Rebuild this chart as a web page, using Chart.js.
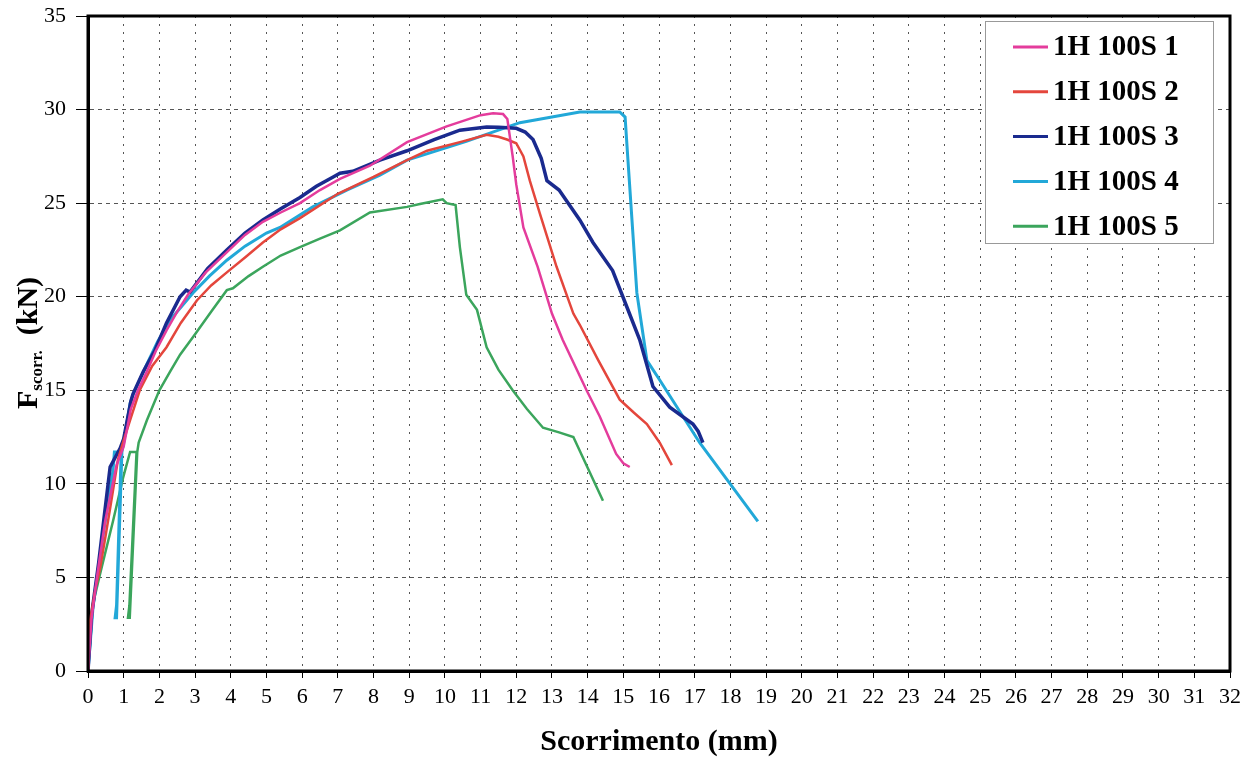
<!DOCTYPE html>
<html>
<head>
<meta charset="utf-8">
<script src="https://cdn.jsdelivr.net/npm/chart.js@4.4.0/dist/chart.umd.min.js"></script>
<style>
  html, body { margin: 0; padding: 0; background: #fff; }
</style>
</head>
<body>
<canvas id="grafico" width="1254" height="760"></canvas>
<script>
// serie (scorrimento mm / forza kN)
const etichette = ['1H 100S 1', '1H 100S 2', '1H 100S 3', '1H 100S 4', '1H 100S 5'];
const colori = ['#E43C9C', '#E4463C', '#1A2A8E', '#22A8D8', '#3BA55C'];
const spessori = [2.5, 2.5, 3.5, 3, 2.5];

const x1 = [0, 0.1, 0.25, 0.48, 0.8, 1.0, 1.2, 1.4, 1.65, 1.9, 2.2, 2.5, 2.8, 3.3, 3.9, 4.4, 4.9, 5.4, 5.94, 6.5, 7.06, 7.9, 8.94, 10.05, 10.6, 11.0, 11.35, 11.63, 11.75, 11.9, 12.0, 12.2, 12.6, 13.0, 13.3, 13.97, 14.34, 14.8, 15.0, 15.18];
const y1 = [0, 2.8, 5.0, 8.0, 11.0, 12.0, 14.0, 15.0, 16.0, 17.1, 18.2, 19.2, 20.1, 21.3, 22.4, 23.3, 24.0, 24.5, 25.0, 25.7, 26.3, 27.0, 28.26, 29.1, 29.45, 29.7, 29.8, 29.76, 29.5, 27.5, 26.0, 23.7, 21.6, 19.1, 17.7, 15.0, 13.6, 11.6, 11.1, 10.9];

const x2 = [0, 0.06, 0.2, 0.34, 0.5, 0.62, 0.84, 0.98, 1.18, 1.45, 1.8, 2.2, 2.6, 3.05, 3.45, 3.89, 4.4, 4.9, 5.4, 5.94, 7.0, 8.0, 8.94, 9.5, 10.5, 11.17, 11.5, 11.74, 12.0, 12.2, 12.38, 12.66, 13.13, 13.6, 13.78, 14.3, 14.9, 15.3, 15.66, 16.02, 16.36];
const y2 = [0, 2.7, 4.3, 5.5, 7.3, 8.7, 11.3, 12.2, 13.4, 15.0, 16.3, 17.3, 18.6, 19.8, 20.6, 21.3, 22.1, 22.9, 23.6, 24.2, 25.5, 26.4, 27.3, 27.8, 28.3, 28.65, 28.55, 28.4, 28.2, 27.5, 26.2, 24.45, 21.6, 19.1, 18.5, 16.6, 14.5, 13.8, 13.2, 12.2, 11.0];

const x3 = [0, 0.1, 0.3, 0.62, 0.9, 1.0, 1.2, 1.26, 1.55, 1.88, 2.2, 2.58, 2.75, 2.86, 3.35, 3.89, 4.4, 4.9, 5.4, 5.94, 6.4, 6.87, 7.06, 7.42, 8.18, 8.94, 9.7, 10.42, 11.17, 11.5, 12.0, 12.25, 12.47, 12.7, 12.86, 13.2, 13.78, 14.15, 14.7, 15.1, 15.46, 15.83, 16.3, 16.95, 17.1, 17.23];
const y3 = [0, 3.0, 5.8, 10.9, 11.9, 12.4, 14.4, 14.8, 16.0, 17.15, 18.6, 20.0, 20.35, 20.25, 21.5, 22.5, 23.4, 24.1, 24.7, 25.3, 25.9, 26.4, 26.6, 26.7, 27.3, 27.8, 28.4, 28.9, 29.07, 29.05, 29.0, 28.8, 28.4, 27.4, 26.2, 25.7, 24.1, 22.9, 21.4, 19.45, 17.7, 15.2, 14.1, 13.2, 12.8, 12.2];

const x4 = [0, 0.14, 0.42, 0.7, 0.74, 0.93, 0.8, 0.76, 0.8, 0.95, 1.0, 1.18, 1.26, 1.65, 1.95, 2.3, 2.94, 3.4, 3.89, 4.4, 5.0, 5.38, 6.3, 7.25, 8.18, 8.94, 10.6, 12.1, 13.0, 13.78, 14.9, 15.05, 15.13, 15.38, 15.66, 16.02, 17.14, 18.77];
const y4 = [0, 3.4, 7.2, 10.7, 11.7, 11.7, 3.5, 2.85, 2.85, 11.7, 12.2, 14.3, 14.75, 16.4, 17.6, 18.75, 20.2, 21.1, 21.95, 22.7, 23.4, 23.7, 24.8, 25.7, 26.5, 27.3, 28.3, 29.3, 29.6, 29.87, 29.87, 29.6, 27.3, 20.2, 16.6, 15.55, 12.2, 8.0];

const x5 = [0, 0.14, 0.34, 0.7, 0.98, 1.05, 1.18, 1.36, 1.16, 1.12, 1.17, 1.38, 1.42, 1.65, 2.0, 2.3, 2.58, 3.0, 3.45, 3.89, 4.06, 4.5, 4.9, 5.4, 5.94, 6.5, 7.06, 7.9, 8.94, 9.3, 9.94, 10.05, 10.3, 10.42, 10.6, 10.9, 11.17, 11.5, 11.9, 12.3, 12.75, 13.2, 13.6, 14.43];
const y5 = [0, 3.6, 5.2, 8.0, 10.3, 10.8, 11.7, 11.7, 3.5, 2.85, 2.85, 11.7, 12.2, 13.4, 15.0, 16.0, 16.9, 18.0, 19.2, 20.35, 20.45, 21.1, 21.6, 22.2, 22.65, 23.1, 23.55, 24.5, 24.8, 24.95, 25.2, 25.0, 24.9, 22.65, 20.1, 19.3, 17.3, 16.1, 15.0, 14.0, 13.0, 12.75, 12.5, 9.1];

const serieX = [x1, x2, x3, x4, x5];
const serieY = [y1, y2, y3, y4, y5];

const FONT = '"Liberation Serif", "Times New Roman", serif';

// titolo asse y con pedice
const titoloY = {
    id: 'titoloY',
    afterDraw(chart) {
        const ctx = chart.ctx;
        ctx.save();
        ctx.translate(27, 343);
        ctx.rotate(-Math.PI / 2);
        ctx.fillStyle = '#000';
        ctx.textBaseline = 'alphabetic';
        const big = 'bold 30px ' + FONT;
        const small = 'bold 17px ' + FONT;
        ctx.font = big;
        const wF = ctx.measureText('F').width;
        const wK = ctx.measureText('  (kN)').width;
        ctx.font = small;
        const wS = ctx.measureText('scorr.').width;
        let x = -(wF + wS + wK) / 2;
        ctx.font = big;
        ctx.fillText('F', x, 10);
        x += wF;
        ctx.font = small;
        ctx.fillText('scorr.', x, 15);
        x += wS;
        ctx.font = big;
        ctx.fillText('  (kN)', x, 10);
        ctx.restore();
    }
};

// cornice e legenda dentro l'area del grafico
const cornice = {
    id: 'cornice',
    afterDraw(chart) {
        const ctx = chart.ctx;
        const a = chart.chartArea;
        ctx.save();
        ctx.strokeStyle = '#000';
        ctx.lineWidth = 3;
        ctx.strokeRect(a.left, a.top, a.right - a.left, a.bottom - a.top);

        // legenda
        const lx = 985, ly = 21, lw = 228, lh = 222;
        ctx.fillStyle = '#fff';
        ctx.fillRect(lx, ly, lw, lh);
        ctx.strokeStyle = '#999';
        ctx.lineWidth = 1;
        ctx.strokeRect(lx + 0.5, ly + 0.5, lw, lh);
        ctx.font = 'bold 29px ' + FONT;
        ctx.textBaseline = 'middle';
        chart.data.datasets.forEach((ds, i) => {
            const yy = 47 + i * 44.8;
            ctx.strokeStyle = ds.borderColor;
            ctx.lineWidth = 3;
            ctx.beginPath();
            ctx.moveTo(1013, yy);
            ctx.lineTo(1048, yy);
            ctx.stroke();
            ctx.fillStyle = '#000';
            ctx.fillText(ds.label, 1053, yy + 1);
        });
        ctx.restore();
    }
};

const datasets = etichette.map((nome, i) => ({
    label: nome,
    data: serieX[i].map((x, j) => ({ x: x, y: serieY[i][j] })),
    borderColor: colori[i],
    backgroundColor: colori[i],
    borderWidth: spessori[i],
    showLine: true,
    pointRadius: 0,
    tension: 0
}));

new Chart(document.getElementById('grafico').getContext('2d'), {
    type: 'scatter',
    data: { datasets: datasets },
    options: {
        responsive: false,
        animation: false,
        devicePixelRatio: 1,
        layout: { padding: { left: 0, top: 16, right: 24, bottom: 0 } },
        plugins: { legend: { display: false }, tooltip: { enabled: false } },
        scales: {
            x: {
                type: 'linear',
                min: 0, max: 32,
                afterFit: s => { s.height = 89; },
                ticks: {
                    stepSize: 1, autoSkip: false, maxRotation: 0, padding: 6,
                    color: '#000', font: { family: FONT, size: 22 }
                },
                grid: {
                    color: '#555', lineWidth: 1,
                    tickColor: '#000', tickLength: 7, tickBorderDash: [], tickWidth: 1
                },
                border: { display: true, color: '#000', width: 3, dash: [2, 6] },
                title: {
                    display: true, text: 'Scorrimento (mm)', color: '#000',
                    font: { family: FONT, size: 30, weight: 'bold' },
                    padding: { top: 0, bottom: 0 }
                }
            },
            y: {
                min: 0, max: 35,
                afterFit: s => { s.width = 88; s.paddingTop = 0; s.paddingBottom = 0; },
                ticks: {
                    stepSize: 5, padding: 10,
                    color: '#000', font: { family: FONT, size: 22 }
                },
                grid: {
                    color: '#555', lineWidth: 1,
                    tickColor: '#000', tickLength: 12, tickBorderDash: [], tickWidth: 1
                },
                border: { display: true, color: '#000', width: 3, dash: [4, 4] }
            }
        }
    },
    plugins: [titoloY, cornice]
});
</script>
</body>
</html>
